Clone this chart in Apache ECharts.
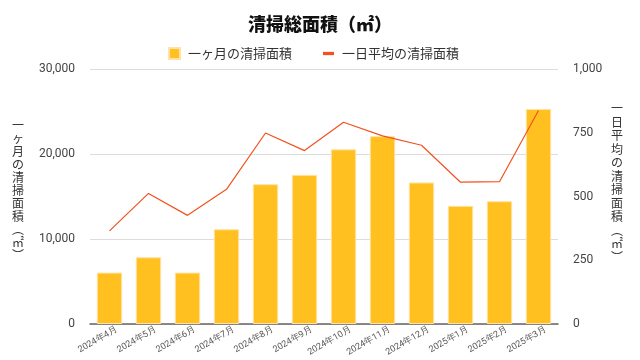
<!DOCTYPE html>
<html><head><meta charset="utf-8">
<script src="https://cdn.jsdelivr.net/npm/echarts@6/dist/echarts.min.js"></script>
<style>html,body{margin:0;padding:0;background:#fff}#c{width:640px;height:360px}</style>
</head><body><div id="c"></div>
<script>
const categories = ['2024年4月','2024年5月','2024年6月','2024年7月','2024年8月','2024年9月','2024年10月','2024年11月','2024年12月','2025年1月','2025年2月','2025年3月'];
const monthlyArea = [6050, 7850, 6050, 11150, 16450, 17550, 20550, 22100, 16650, 13900, 14450, 25300];
const dailyAvg = [365, 512, 426, 528, 749, 680, 791, 738, 701, 556, 558, 837];
const leftTicks = [0, 10000, 20000, 30000];
const rightTicks = [0, 250, 500, 750, 1000];
const titleText = '清掃総面積（㎡）';
const barName = '一ヶ月の清掃面積';
const lineName = '一日平均の清掃面積';
const leftAxisName = '一ヶ月の清掃面積︵㎡︶';
const rightAxisName = '一日平均の清掃面積︵㎡︶';

const font = '"Noto Sans CJK JP", "Noto Sans", sans-serif';
const verticalName = (s, pad) => s.split('').concat(Array(pad).fill(' ')).join('\n');
const chart = echarts.init(document.getElementById('c'), null, {renderer:'canvas'});
chart.setOption({
  animation:false,
  textStyle:{fontFamily:font},
  title:{text:titleText,left:'center',top:10,textStyle:{fontFamily:font,fontSize:18,fontWeight:900,color:'#111'}},
  legend:{top:42,left:163,itemGap:31,itemWidth:11,itemHeight:11,
    textStyle:{fontFamily:font,fontSize:13,color:'#333',padding:[0,0,0,3]},
    data:[{name:barName,icon:'rect'},{name:lineName,icon:'path://M0,0h10v3h-10z',itemStyle:{color:'#F4511E'}}]},
  grid:{left:90,right:82,top:69,bottom:36,containLabel:false},
  xAxis:{type:'category',data:categories,
    axisLine:{lineStyle:{color:'#666',width:1.5}},axisTick:{show:false},
    axisLabel:{rotate:30,fontSize:9,color:'#555',interval:0,margin:9,padding:[0,-8,0,0],fontFamily:'Roboto, sans-serif'}},
  yAxis:[
    {type:'value',min:leftTicks[0],max:leftTicks[leftTicks.length-1],interval:leftTicks[1]-leftTicks[0],
     name:verticalName(leftAxisName,1),nameLocation:'middle',nameRotate:0,nameGap:66,
     nameTextStyle:{fontFamily:font,fontSize:12,color:'#333',lineHeight:13},
     axisLabel:{fontSize:12,color:'#444',margin:15,fontFamily:'Roboto, sans-serif',formatter:v=>v.toLocaleString('en-US')},
     splitLine:{lineStyle:{color:'#ddd',width:1}},axisLine:{show:false},axisTick:{show:false}},
    {type:'value',min:rightTicks[0],max:rightTicks[rightTicks.length-1],interval:rightTicks[1]-rightTicks[0],
     name:verticalName(rightAxisName,2),nameLocation:'middle',nameRotate:0,nameGap:53,
     nameTextStyle:{fontFamily:font,fontSize:12,color:'#333',lineHeight:13.5},
     axisLabel:{fontSize:12,color:'#444',margin:15,fontFamily:'Roboto, sans-serif',formatter:v=>v.toLocaleString('en-US')},
     splitLine:{show:false},axisLine:{show:false},axisTick:{show:false}}
  ],
  series:[
    {name:barName,type:'bar',data:monthlyArea,yAxisIndex:0,barWidth:'65%',
     itemStyle:{color:'#FFC020',borderColor:'#FFE3A6',borderWidth:1}},
    {name:lineName,type:'line',data:dailyAvg,yAxisIndex:1,symbol:'none',
     lineStyle:{color:'#F4511E',width:1.2},itemStyle:{color:'#F4511E'}}
  ]
});
</script></body></html>
